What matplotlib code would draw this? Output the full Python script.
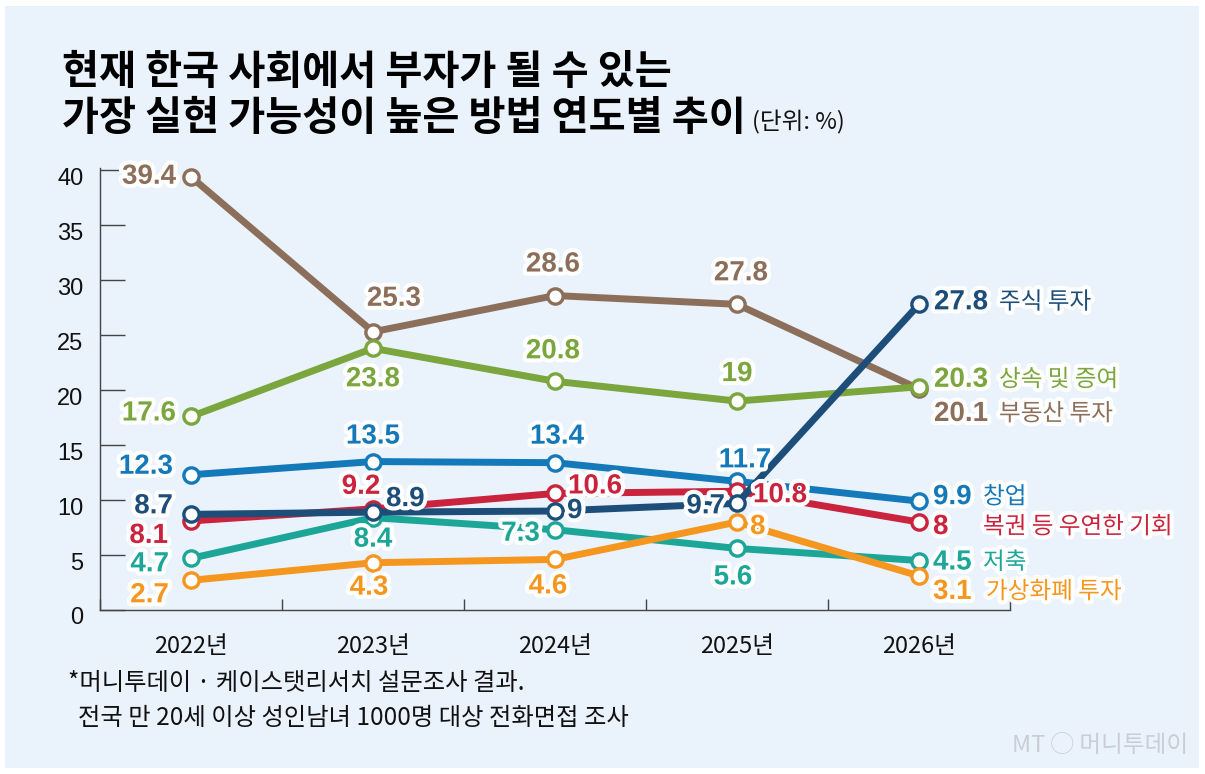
import matplotlib
matplotlib.use("Agg")
import matplotlib.pyplot as plt
import matplotlib.patheffects as pe
from matplotlib.patches import Rectangle
from matplotlib.transforms import ScaledTranslation

# data (단위: %)
years = ["2022년", "2023년", "2024년", "2025년", "2026년"]
realestate = [39.4, 25.3, 28.6, 27.8, 20.1]
inherit = [17.6, 23.8, 20.8, 19, 20.3]
startup = [12.3, 13.5, 13.4, 11.7, 9.9]
lottery = [8.1, 9.2, 10.6, 10.8, 8]
savings = [4.7, 8.4, 7.3, 5.6, 4.5]
crypto = [2.7, 4.3, 4.6, 8, 3.1]
stocks = [8.7, 8.9, 9, 9.7, 27.8]
yticks = [0, 5, 10, 15, 20, 25, 30, 35, 40]

W, H = 1205, 774
NUM_FONT = ["Liberation Sans", "Noto Sans CJK KR"]
KR_FONT = ["Noto Sans CJK KR", "DejaVu Sans"]
plt.rcParams["font.family"] = NUM_FONT

# label offsets in pixels (dx, dy, ha) per point, then offset of the series name
series = [
    (realestate, "부동산 투자", "#8C6F5B", 2,
     [(-15, 0, "right"), (21, 33, "center"), (-2, 31, "center"), (4, 31, "center"), (15, -25, "left")], 80),
    (inherit, "상속 및 증여", "#7BA63D", 3,
     [(-15, 3, "right"), (0, -31, "center"), (-2, 30, "center"), (0, 27, "center"), (15, 7, "left")], 80),
    (startup, "창업", "#1479B8", 4,
     [(-18, 8, "right"), (0, 25, "center"), (2, 26, "center"), (8, 21, "center"), (14, 4, "left")], 64),
    (lottery, "복권 등 우연한 기회", "#C9233D", 5,
     [(-23, -15, "right"), (-12, 22, "center"), (13, 7, "left"), (16, -4, "left"), (14, -5, "left")], 64),
    (savings, "저축", "#1CA698", 6,
     [(-22, -6, "right"), (0, -22, "center"), (-15, -4, "right"), (-4, -29, "center"), (14, -2, "left")], 64),
    (crypto, "가상화폐 투자", "#F5961F", 7,
     [(-22, -15, "right"), (-4, -25, "center"), (-7, -27, "center"), (13, -5, "left"), (14, -16, "left")], 67),
    (stocks, "주식 투자", "#1D4E7A", 8,
     [(-18, 8, "right"), (13, 13, "left"), (12, 0, "left"), (-12, -3, "right"), (15, 2, "left")], 80),
]

fig = plt.figure(figsize=(W / 100, H / 100), dpi=100, facecolor="white")
fig.patches.append(Rectangle((5 / W, 6 / H), 1194 / W, 762 / H, transform=fig.transFigure,
                             facecolor="#EAF2FC", edgecolor="none", zorder=-10))

ax = fig.add_axes([100 / W, (H - 610) / H, 910 / W, 442 / H])
ax.set_facecolor("none")
x = list(range(len(years)))
stroke = [pe.withStroke(linewidth=6, foreground="white")]

for vals, name, color, z, offs, ndx in series:
    ax.plot(x, vals, color=color, lw=5, marker="o", ms=11, mfc="white", mec=color, mew=2.4,
            zorder=z, solid_joinstyle="round", clip_on=False)
    for i, v in enumerate(vals):
        dx, dy, ha = offs[i]
        ax.annotate(f"{v:g}", (i, v), xytext=(dx, dy), textcoords="offset pixels",
                    ha=ha, va="center", fontsize=20, fontweight="bold", color=color,
                    path_effects=stroke, zorder=20)
    dx, dy, ha = offs[-1]
    ax.annotate(name, (x[-1], vals[-1]), xytext=(ndx, dy), textcoords="offset pixels",
                ha="left", va="center", fontsize=17, color=color, family=KR_FONT,
                path_effects=stroke, zorder=20)

ax.set_xlim(-0.5, 4.5)
ax.set_ylim(0, 40.2)
for s in ["top", "right"]:
    ax.spines[s].set_visible(False)
for s in ["left", "bottom"]:
    ax.spines[s].set_color("#444444")
    ax.spines[s].set_linewidth(1)

ax.set_yticks(yticks)
ax.tick_params(axis="y", direction="in", length=18, width=1, color="#444444",
               labelsize=17, pad=12, labelcolor="#111111")
offset = ScaledTranslation(0, -6 / 100, fig.dpi_scale_trans)
for lab in ax.get_yticklabels():
    lab.set_transform(lab.get_transform() + offset)

ax.set_xticks(x)
ax.set_xticklabels(years, family=KR_FONT)
ax.tick_params(axis="x", length=0, labelsize=17, pad=18, labelcolor="#111111")
ax.set_xticks([i + 0.5 for i in range(-1, len(years))], minor=True)
ax.tick_params(axis="x", which="minor", direction="in", length=8, width=1, color="#444444")

# title and notes
fig.text(62 / W, 1 - 72 / H, "현재 한국 사회에서 부자가 될 수 있는", family=KR_FONT,
         fontsize=29, fontweight="bold", va="center", ha="left", color="black")
fig.text(62 / W, 1 - 119 / H, "가장 실현 가능성이 높은 방법 연도별 추이", family=KR_FONT,
         fontsize=29, fontweight="bold", va="center", ha="left", color="black")
fig.text(752 / W, 1 - 122 / H, "(단위: %)", family=KR_FONT, fontsize=17,
         va="center", ha="left", color="#111111")
fig.text(68 / W, 1 - 683 / H, "*머니투데이 · 케이스탯리서치 설문조사 결과.", family=KR_FONT,
         fontsize=17.5, va="center", ha="left", color="#111111")
fig.text(78 / W, 1 - 718 / H, "전국 만 20세 이상 성인남녀 1000명 대상 전화면접 조사", family=KR_FONT,
         fontsize=17.5, va="center", ha="left", color="#111111")
fig.text(1188 / W, 1 - 745 / H, "MT ◯ 머니투데이", family=KR_FONT, fontsize=17,
         va="center", ha="right", color="#C9CED6")

fig.savefig("out.png", dpi=100, facecolor="white")
